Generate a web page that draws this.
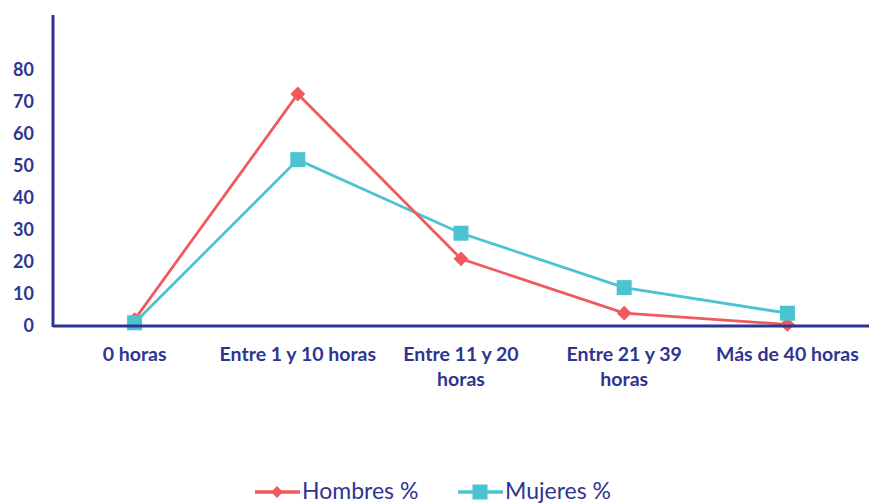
<!DOCTYPE html>
<html>
<head>
<meta charset="utf-8">
<script src="https://cdn.jsdelivr.net/npm/d3@7"></script>
<style>
  body { margin: 0; background: #fff; }
  text { font-family: Lato, "Open Sans", sans-serif; fill: #2e3590; }
</style>
</head>
<body>
<div id="chart"></div>
<script>
// Horas por semana: hombres vs mujeres (%)
const categories = [
  ["0 horas"],
  ["Entre 1 y 10 horas"],
  ["Entre 11 y 20", "horas"],
  ["Entre 21 y 39", "horas"],
  ["Más de 40 horas"],
];
const hombres = [2, 72.5, 21, 4, 0.5];
const mujeres = [1, 52, 29, 12, 4];
const yTicks = [0, 10, 20, 30, 40, 50, 60, 70, 80];
const seriesNames = ["Hombres %", "Mujeres %"];

const width = 869;
const height = 504;
const margin = { top: 15, right: 0, bottom: 178, left: 53 };

const red = "#f05a5e";
const teal = "#4cc3d1";
const navy = "#2e3590";

const svg = d3
  .select("#chart")
  .append("svg")
  .attr("width", width)
  .attr("height", height);

const x = d3
  .scaleBand()
  .domain(categories.map((d, i) => i))
  .range([margin.left, width - margin.right]);

const y = d3
  .scaleLinear()
  .domain([0, 97.2])
  .range([height - margin.bottom, margin.top]);

// y tick labels
svg
  .selectAll(".ytick")
  .data(yTicks)
  .join("text")
  .attr("class", "ytick")
  .attr("x", 34)
  .attr("y", (d) => y(d) + 1)
  .attr("text-anchor", "end")
  .attr("dominant-baseline", "middle")
  .style("font-size", "18px")
  .style("font-weight", "bold")
  .text((d) => d);

// x labels
const xl = svg
  .selectAll(".xlab")
  .data(categories)
  .join("text")
  .attr("class", "xlab")
  .attr("text-anchor", "middle")
  .style("font-size", "19.5px")
  .style("font-weight", "bold");

xl.selectAll("tspan")
  .data((d, i) => d.map((line) => ({ line, i })))
  .join("tspan")
  .attr("x", (d) => x(d.i) + x.bandwidth() / 2)
  .attr("y", (d, j) => 361 + j * 25)
  .text((d) => d.line);

// lines
const line = d3
  .line()
  .x((d, i) => x(i) + x.bandwidth() / 2)
  .y((d) => y(d));

svg
  .append("path")
  .datum(mujeres)
  .attr("fill", "none")
  .attr("stroke", teal)
  .attr("stroke-width", 2.8)
  .attr("d", line);

svg
  .append("path")
  .datum(hombres)
  .attr("fill", "none")
  .attr("stroke", red)
  .attr("stroke-width", 2.8)
  .attr("d", line);

svg
  .selectAll(".dia")
  .data(hombres)
  .join("path")
  .attr("class", "dia")
  .attr("d", d3.symbol(d3.symbolSquare, 110))
  .attr(
    "transform",
    (d, i) => `translate(${x(i) + x.bandwidth() / 2},${y(d)}) rotate(45)`
  )
  .attr("fill", red);

svg
  .selectAll(".sq")
  .data(mujeres)
  .join("rect")
  .attr("class", "sq")
  .attr("x", (d, i) => x(i) + x.bandwidth() / 2 - 7.5)
  .attr("y", (d) => y(d) - 7.5)
  .attr("width", 15)
  .attr("height", 15)
  .attr("fill", teal);

// axes
svg
  .append("line")
  .attr("x1", margin.left)
  .attr("x2", margin.left)
  .attr("y1", margin.top)
  .attr("y2", y(0) + 1)
  .attr("stroke", navy)
  .attr("stroke-width", 3);

svg
  .append("line")
  .attr("x1", margin.left)
  .attr("x2", width)
  .attr("y1", y(0))
  .attr("y2", y(0))
  .attr("stroke", navy)
  .attr("stroke-width", 3);

// legend
const legendY = 492;
const legend = [
  { name: seriesNames[0], color: red, x0: 255, shape: "diamond" },
  { name: seriesNames[1], color: teal, x0: 458, shape: "square" },
];

legend.forEach((l) => {
  svg
    .append("line")
    .attr("x1", l.x0)
    .attr("x2", l.x0 + 45)
    .attr("y1", legendY)
    .attr("y2", legendY)
    .attr("stroke", l.color)
    .attr("stroke-width", 3.5);
  if (l.shape === "diamond") {
    svg
      .append("path")
      .attr("d", d3.symbol(d3.symbolSquare, 70))
      .attr("transform", `translate(${l.x0 + 22},${legendY}) rotate(45)`)
      .attr("fill", l.color);
  } else {
    svg
      .append("rect")
      .attr("x", l.x0 + 22 - 7.5)
      .attr("y", legendY - 7.5)
      .attr("width", 15)
      .attr("height", 15)
      .attr("fill", l.color);
  }
  svg
    .append("text")
    .attr("x", l.x0 + 47)
    .attr("y", legendY + 1)
    .attr("dominant-baseline", "middle")
    .style("font-size", "23px")
    .text(l.name);
});
</script>
</body>
</html>
